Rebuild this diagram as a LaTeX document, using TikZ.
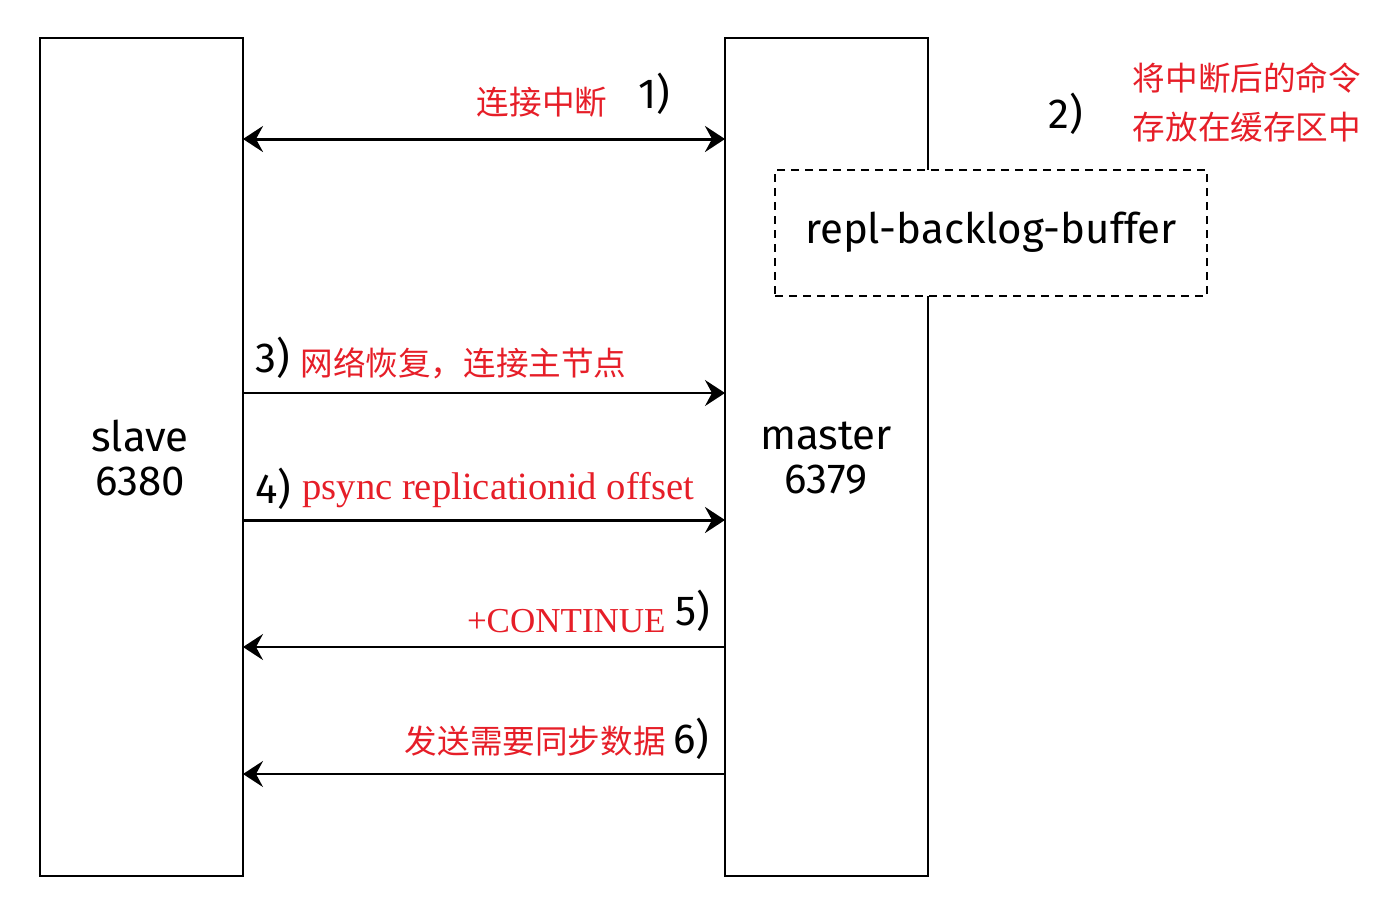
\documentclass[tikz,border=0pt]{standalone}
\usepackage{fontspec}
\setmainfont{Fira Sans}
\newfontfamily\redlat{Liberation Serif}
\newfontfamily\cjk{Noto Sans CJK SC}
\usetikzlibrary{arrows.meta}
\definecolor{redtxt}{RGB}{230,30,40}
\begin{document}
\begin{tikzpicture}[x=0.5pt,y=-0.5pt,
  box/.style={draw,line width=1pt,inner sep=0},
  lbl/.style={inner sep=0,font=\fontsize{21}{24}\selectfont},
  red/.style={inner sep=0,text=redtxt,font=\cjk\fontsize{16.3}{18}\selectfont},
  redl/.style={inner sep=0,text=redtxt,font=\redlat\fontsize{17.5}{18}\selectfont},
  tip/.style={-{Stealth[length=10pt,width=13pt,inset=3.5pt]}},
  thin/.style={line width=1pt},
  thick/.style={line width=1.5pt}]
\useasboundingbox (0,0) rectangle (1375,901);
\node[box,minimum width=101.5pt,minimum height=419pt] (slave) at (141.5,457) {};
\node[box,minimum width=101.5pt,minimum height=419pt] (master) at (826.5,457) {};
\node[lbl,align=center] (slt) at (140,458) {slave\\[-2pt]6380};
\node[lbl,align=center] (mst) at (826,458) {master\\[-2pt]6379};
\node[draw,line width=1pt,fill=white,minimum width=216pt,minimum height=63pt,dash pattern=on 4pt off 3pt] (buf) at (991,233) {};
\node[lbl] (buft) at (991,232) {repl-backlog-buffer};
% coordinates on edges
\coordinate (s1) at (243,139); \coordinate (m1) at (725,139);
\coordinate (s3) at (243,393); \coordinate (m3) at (725,393);
\coordinate (s4) at (243,520); \coordinate (m4) at (725,520);
\coordinate (s5) at (243,647); \coordinate (m5) at (725,647);
\coordinate (s6) at (243,774); \coordinate (m6) at (725,774);
\draw[thick,{Stealth[length=10pt,width=13pt,inset=3.5pt]}-{Stealth[length=10pt,width=13pt,inset=3.5pt]}] (s1) -- (m1);
\draw[thin,tip] (s3) -- (m3);
\draw[thick,tip] (s4) -- (m4);
\draw[thin,tip] (m5) -- (s5);
\draw[thin,tip] (m6) -- (s6);
% labels
\node[red] (t1) at (542,102) {连接中断};
\node[lbl] (n1) at (654,94) {1)};
\node[lbl] (n2) at (1066,114) {2)};
\node[red] (t2a) at (1247,78) {将中断后的命令};
\node[red] (t2b) at (1247,127) {存放在缓存区中};
\node[lbl] (n3) at (273,358) {3)};
\node[red,anchor=west] (t3) at (300,363) {网络恢复，连接主节点};
\node[lbl] (n4) at (273,489) {4)};
\node[redl,anchor=west,font=\redlat\fontsize{19.3}{20}\selectfont] (t4) at (302,490) {psync replicationid offset};
\node[redl,anchor=east] (t5) at (666,621) {+CONTINUE};
\node[lbl] (n5) at (693,611) {5)};
\node[red,anchor=east] (t6) at (666,741) {发送需要同步数据};
\node[lbl] (n6) at (691,739) {6)};
\end{tikzpicture}
\end{document}
